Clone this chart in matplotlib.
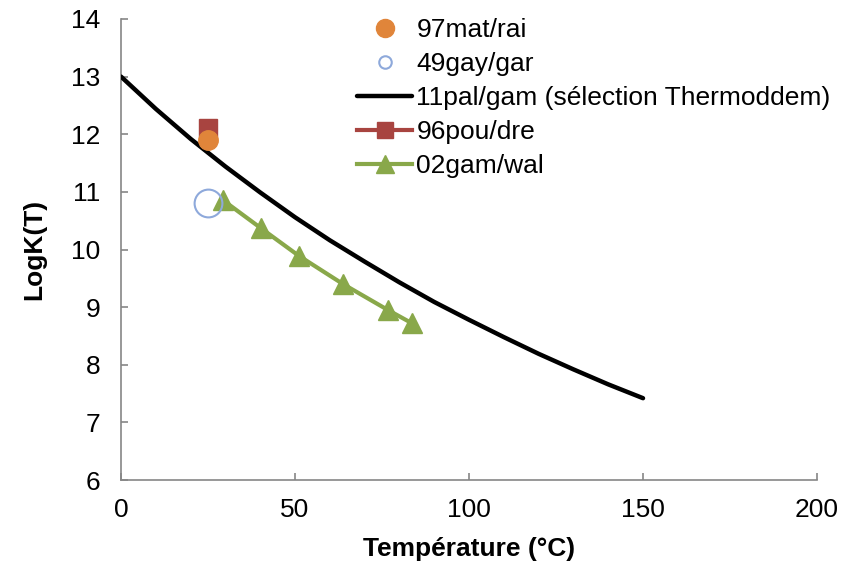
import numpy as np
import matplotlib.pyplot as plt

plt.rcParams['font.family'] = ['Liberation Sans', 'DejaVu Sans']

# --- données ---
t_11pal = [0, 10, 20, 30, 40, 50, 60, 70, 80, 90, 100, 110, 120, 130, 140, 150]
logk_11pal = [13.00, 12.44, 11.92, 11.44, 10.99, 10.56, 10.16, 9.79, 9.43, 9.09,
              8.78, 8.48, 8.19, 7.92, 7.66, 7.42]

t_97mat = [25]
logk_97mat = [11.9]

t_49gay = [25]
logk_49gay = [10.8]

t_96pou = [25]
logk_96pou = [12.1]

t_02gam = [29.2, 40.2, 51.1, 63.8, 76.7, 83.6]
logk_02gam = [10.86, 10.37, 9.89, 9.40, 8.95, 8.72]

fig = plt.figure(figsize=(8.41, 5.65), dpi=100)
ax = fig.add_axes([0.1439, 0.1504, 0.8276, 0.816])

ax.plot(t_97mat, logk_97mat, 'o', color='#E0853A', ms=14, ls='none', label='97mat/rai', zorder=5)
ax.plot(t_49gay, logk_49gay, 'o', mfc='none', mec='#8EA9DB', mew=1.5, ms=20, ls='none',
        label='49gay/gar', zorder=5)
ax.plot(t_11pal, logk_11pal, '-', color='black', lw=3.2, label='11pal/gam (sélection Thermoddem)',
        zorder=3, solid_capstyle='round')
ax.plot(t_96pou, logk_96pou, '-s', color='#A84440', lw=3, ms=13, label='96pou/dre', zorder=4)
ax.plot(t_02gam, logk_02gam, '-^', color='#89A84A', lw=3, ms=15, label='02gam/wal', zorder=4)

ax.set_xlim(0, 200)
ax.set_ylim(6, 14)
ax.set_xticks([0, 50, 100, 150, 200])
ax.set_yticks(range(6, 15))

for s in ['top', 'right']:
    ax.spines[s].set_visible(False)
for s in ['left', 'bottom']:
    ax.spines[s].set_color('#868686')
    ax.spines[s].set_linewidth(1.2)
ax.tick_params(direction='in', length=5, width=1.2, color='#868686', labelsize=19)
ax.tick_params(axis='x', pad=13)
ax.tick_params(axis='y', pad=15)

ax.set_xlabel('Température (°C)', fontsize=19, fontweight='bold', labelpad=11)
ax.set_ylabel('LogK(T)', fontsize=19, fontweight='bold', labelpad=18)

leg = ax.legend(loc='upper left', bbox_to_anchor=(0.4245, 0.968), bbox_transform=fig.transFigure,
                frameon=False, fontsize=19, borderpad=0, borderaxespad=0,
                handlelength=2.1, handletextpad=0.15, labelspacing=0.38, numpoints=1)
sizes = [13, 9, 0, 12, 13]
for h, s in zip(leg.legend_handles, sizes):
    if s:
        h.set_markersize(s)

fig.savefig('out.png', dpi=100)
